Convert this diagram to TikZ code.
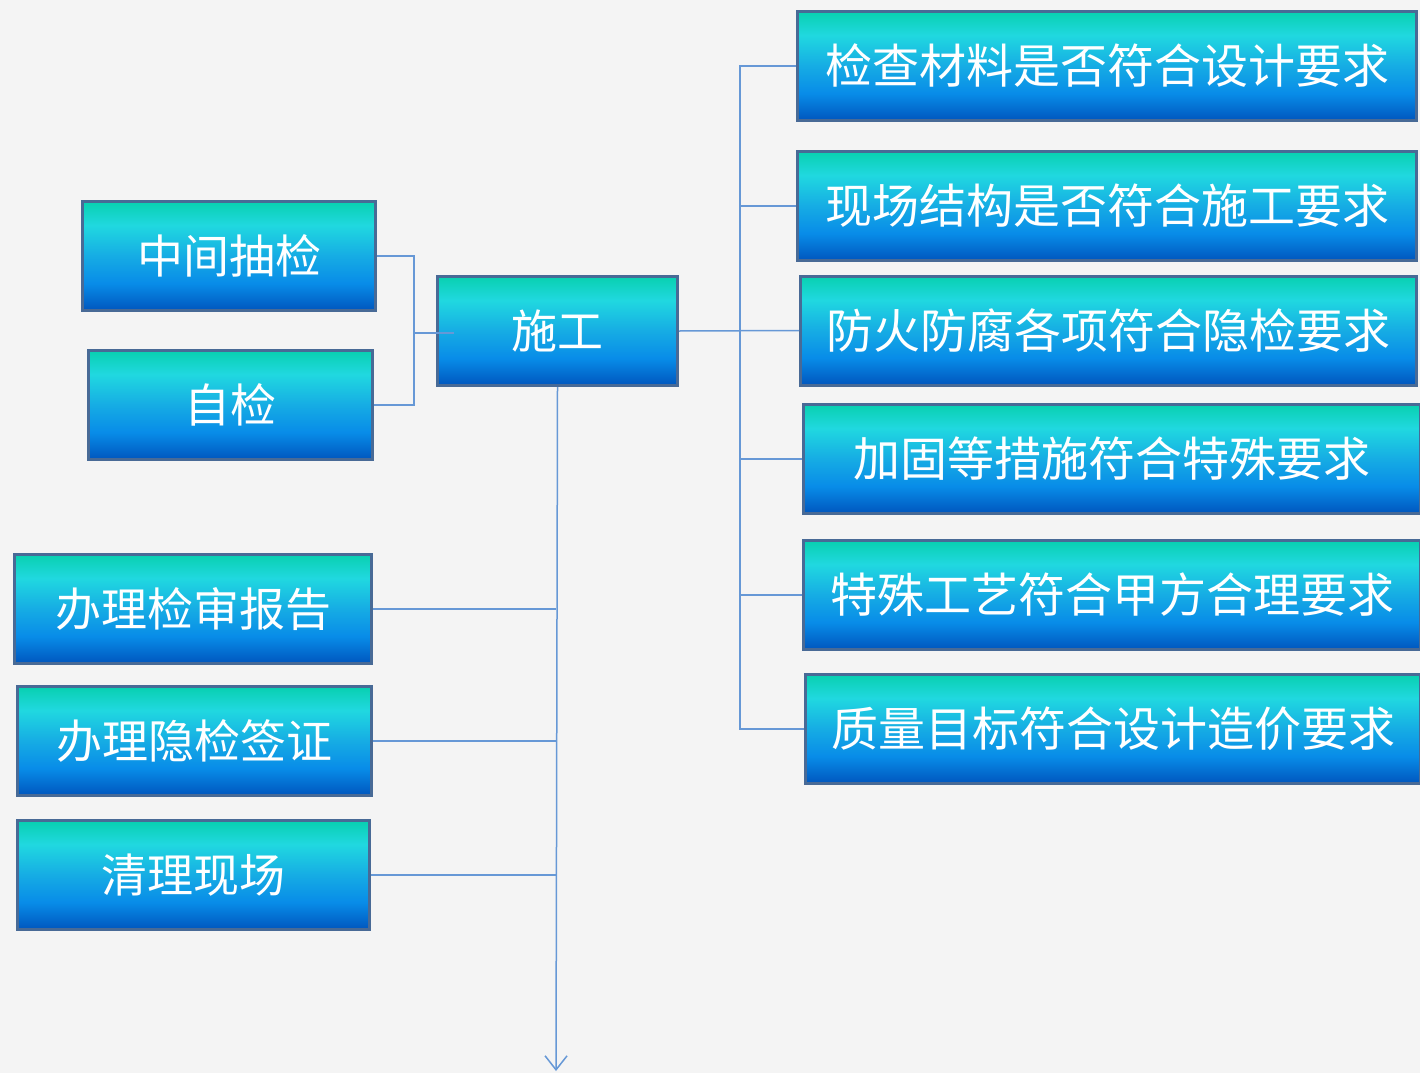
\documentclass[tikz,border=0pt]{standalone}
\usepackage{fontspec}
\newfontfamily\cjk{Noto Sans CJK SC}
\usetikzlibrary{arrows.meta}
\definecolor{bg}{RGB}{244,244,244}
\definecolor{bordercol}{RGB}{72,106,150}
\definecolor{linecol}{RGB}{102,152,214}
\definecolor{gA}{RGB}{8,208,176}
\definecolor{gB}{RGB}{32,216,224}
\definecolor{gC}{RGB}{22,172,228}
\definecolor{gD}{RGB}{8,140,232}
\definecolor{gE}{RGB}{0,86,190}
\pgfdeclareverticalshading{boxgrad}{100bp}{color(0bp)=(gE); color(25bp)=(gE); color(37.5bp)=(gD); color(50bp)=(gC); color(64bp)=(gB); color(75bp)=(gA); color(100bp)=(gA)}
\begin{document}
\begin{tikzpicture}[x=1pt,y=-1pt,
  box/.style={draw=bordercol, line width=3pt, shading=boxgrad, minimum height=109pt, inner sep=0pt, text=white, font=\cjk\fontsize{46}{46}\selectfont},
  conn/.style={draw=linecol, line width=1.5pt}]
\fill[bg] (0,0) rectangle (1420,1073);
\useasboundingbox (0,0) rectangle (1420,1073);
% left top
\node[box, minimum width=293pt] (a) at (229,256) {中间抽检};
\node[box, minimum width=284pt] (b) at (230.5,405) {自检};
\node[box, minimum width=240pt] (s) at (557.5,331) {施工};
% right
\node[box, minimum width=619pt, font=\cjk\fontsize{47}{47}\selectfont] (r1) at (1107,66) {检查材料是否符合设计要求};
\node[box, minimum width=619pt, font=\cjk\fontsize{47}{47}\selectfont] (r2) at (1107,206) {现场结构是否符合施工要求};
\node[box, minimum width=616pt, font=\cjk\fontsize{47}{47}\selectfont] (r3) at (1108.5,330.5) {防火防腐各项符合隐检要求};
\node[box, minimum width=617pt, font=\cjk\fontsize{47}{47}\selectfont] (r4) at (1112,459) {加固等措施符合特殊要求};
\node[box, minimum width=617pt, font=\cjk\fontsize{47}{47}\selectfont] (r5) at (1112,595) {特殊工艺符合甲方合理要求};
\node[box, minimum width=615pt, font=\cjk\fontsize{47}{47}\selectfont] (r6) at (1113,729) {质量目标符合设计造价要求};
% left bottom
\node[box, minimum width=357pt] (l1) at (193,609) {办理检审报告};
\node[box, minimum width=354pt] (l2) at (194.5,741) {办理隐检签证};
\node[box, minimum width=352pt] (l3) at (193.5,875) {清理现场};
% connectors left
\coordinate (jl) at (414,333);
\coordinate (jlend) at (454,333);
\draw[conn] (a.east) -| (jl);
\draw[conn] (b.east) -| (jl);
\draw[conn] (jl) -- (jlend);
% connectors right
\coordinate (jr) at (740,331);
\draw[conn] (s.east) -- (r3.west);
\draw[conn] (r1.west) -| (jr) |- (r6.west);
\draw[conn] (r2.west) -- (r2.west -| jr);
\draw[conn] (r4.west) -- (r4.west -| jr);
\draw[conn] (r5.west) -- (r5.west -| jr);
% down
\coordinate (down) at (556,1071);
\draw[conn, -{Straight Barb[length=14pt,width=22pt,line width=1.5pt]}] (s.south) -- (down);
\draw[conn] (l1.east) -- (l1.east -| down);
\draw[conn] (l2.east) -- (l2.east -| down);
\draw[conn] (l3.east) -- (l3.east -| down);
\end{tikzpicture}
\end{document}
